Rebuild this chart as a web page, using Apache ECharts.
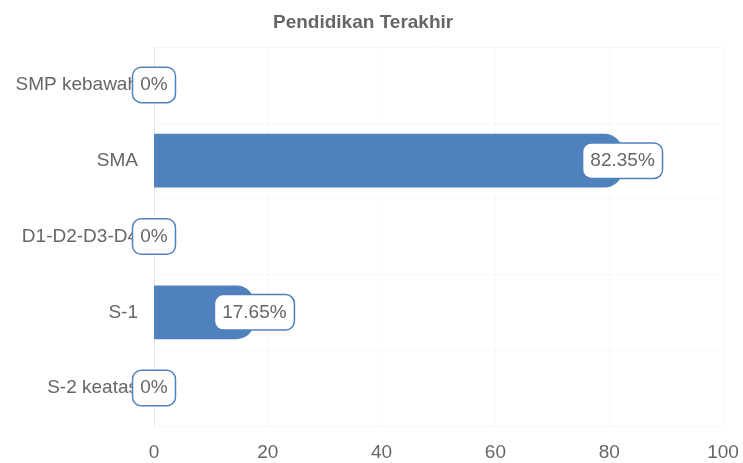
<!DOCTYPE html>
<html>
<head>
<meta charset="utf-8">
<script src="https://cdn.jsdelivr.net/npm/echarts@6/dist/echarts.min.js"></script>
<style>
  html, body { margin: 0; padding: 0; background: #fff; }
  #chart { width: 743px; height: 463px; }
</style>
</head>
<body>
<div id="chart"></div>
<script>
var categories = ['SMP kebawah', 'SMA', 'D1-D2-D3-D4', 'S-1', 'S-2 keatas']
var percentages = [0, 82.35, 0, 17.65, 0]
var xTicks = { min: 0, max: 100, interval: 20 }

var chart = echarts.init(document.getElementById('chart'))
chart.setOption({
  textStyle: { fontFamily: 'Liberation Sans, Arial, sans-serif' },
  title: {
    text: 'Pendidikan Terakhir',
    left: 268,
    top: 8,
    textStyle: { fontSize: 19, fontWeight: 'bold', color: '#666' }
  },
  grid: { left: 154, right: 20, top: 47, bottom: 37 },
  xAxis: {
    type: 'value',
    min: xTicks.min,
    max: xTicks.max,
    interval: xTicks.interval,
    axisLine: { show: false },
    axisTick: { show: false },
    axisLabel: { fontSize: 19, color: '#666', margin: 17 },
    splitLine: { lineStyle: { color: '#f9f9f9' } }
  },
  yAxis: {
    type: 'category',
    inverse: true,
    data: categories,
    axisLine: { lineStyle: { color: '#e8e8e8' } },
    axisTick: { show: false },
    axisLabel: { fontSize: 19, color: '#666', margin: 16 },
    splitLine: { show: true, lineStyle: { color: '#f8f8f8' } }
  },
  series: [{
    type: 'bar',
    data: percentages,
    barCategoryGap: '29%',
    itemStyle: { color: '#4f81bd', borderRadius: [0, 18, 18, 0] },
    label: {
      show: true,
      position: ['100%', '50%'],
      align: 'center',
      verticalAlign: 'middle',
      formatter: '{c}%',
      fontSize: 19,
      color: '#666',
      backgroundColor: '#fff',
      borderColor: '#4f81bd',
      borderWidth: 1.5,
      borderRadius: 8,
      padding: [8, 7, 7, 7]
    }
  }]
})
</script>
</body>
</html>
